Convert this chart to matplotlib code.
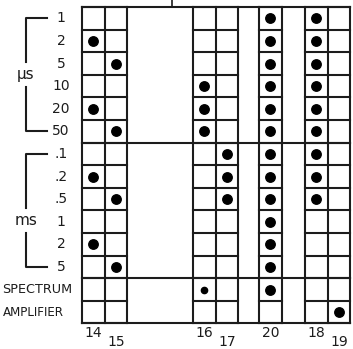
import matplotlib
matplotlib.use("Agg")
import matplotlib.pyplot as plt

# switch settings table: columns are switch numbers, rows are ranges
columns = ["14", "15", "16", "17", "20", "18", "19"]
rows = ["1", "2", "5", "10", "20", "50",
        ".1", ".2", ".5", "1", "2", "5",
        "SPECTRUM", "AMPLIFIER"]
# row indices that carry a dot, per column
dots = {
    "14": [1, 4, 7, 10],
    "15": [2, 5, 8, 11],
    "16": [3, 4, 5, 12],
    "17": [6, 7, 8],
    "20": [0, 1, 2, 3, 4, 5, 6, 7, 8, 9, 10, 11, 12],
    "18": [0, 1, 2, 3, 4, 5, 6, 7, 8],
    "19": [13],
}
small_dots = {("16", 12)}
units = [("\u03bcs", 0, 5), ("ms", 6, 11)]

# layout (cell units)
col_left = {"14": 0.0, "15": 1.0, "16": 4.91, "17": 5.91,
            "20": 7.83, "18": 9.87, "19": 10.87}
blocks = [["14", "15"], ["16", "17"], ["20"], ["18", "19"]]
low_labels = {"15", "17", "19"}
ink = "#1c1c1c"
lw = 1.5
nrow = len(rows)
right = col_left["19"] + 1

fig = plt.figure(figsize=(3.53, 3.49), dpi=100)
ax = fig.add_axes([0, 0, 1, 1])
ax.set_xlim(-82 / 22.6, (353 - 82) / 22.6)
ax.set_ylim((349 - 7) / 22.6, -7 / 22.6)
ax.axis("off")

# cell grid per block
for blk in blocks:
    x0 = col_left[blk[0]]
    x1 = col_left[blk[-1]] + 1
    for c in blk:
        ax.plot([col_left[c]] * 2, [0, nrow], color=ink, lw=lw)
    ax.plot([x1, x1], [0, nrow], color=ink, lw=lw)
    for r in range(nrow + 1):
        ax.plot([x0, x1], [r, r], color=ink, lw=lw)

# full-width group lines
for r in [0, 6, 12, nrow]:
    ax.plot([0, right], [r, r], color=ink, lw=lw)
ax.plot([3.98, 3.98], [-0.35, 0], color=ink, lw=1.2)

# dots
for c in columns:
    for r in dots[c]:
        ms = 4.5 if (c, r) in small_dots else 6.8
        ax.plot(col_left[c] + 0.5, r + 0.5, "o", color="black", ms=ms)

# row labels
for i, lab in enumerate(rows[:12]):
    ax.text(-0.93, i + 0.5, lab, ha="center", va="center",
            fontsize=10, color=ink)
ax.text(-3.52, 12.5, rows[12], ha="left", va="center", fontsize=9.2,
        color=ink)
ax.text(-3.52, 13.5, rows[13], ha="left", va="center", fontsize=8.6,
        color=ink)

# unit brackets
bx, bend = -2.48, -1.55
for name, r0, r1 in units:
    ya, yb = r0 + 0.5, r1 + 0.5
    mid = (ya + yb) / 2 + (0.45 if name == "ms" else 0.0)
    ax.plot([bend, bx, bx], [ya, ya, mid - 0.55], color=ink, lw=lw)
    ax.plot([bx, bx, bend], [mid + 0.55, yb, yb], color=ink, lw=lw)
    ax.text(bx, mid, name, ha="center", va="center", fontsize=11,
            color=ink)

# column labels
for c in columns:
    y = 14.82 if c in low_labels else 14.42
    ax.text(col_left[c] + 0.5, y, c, ha="center", va="center",
            fontsize=10, color=ink)

fig.savefig("out.png", dpi=100, facecolor="white")
